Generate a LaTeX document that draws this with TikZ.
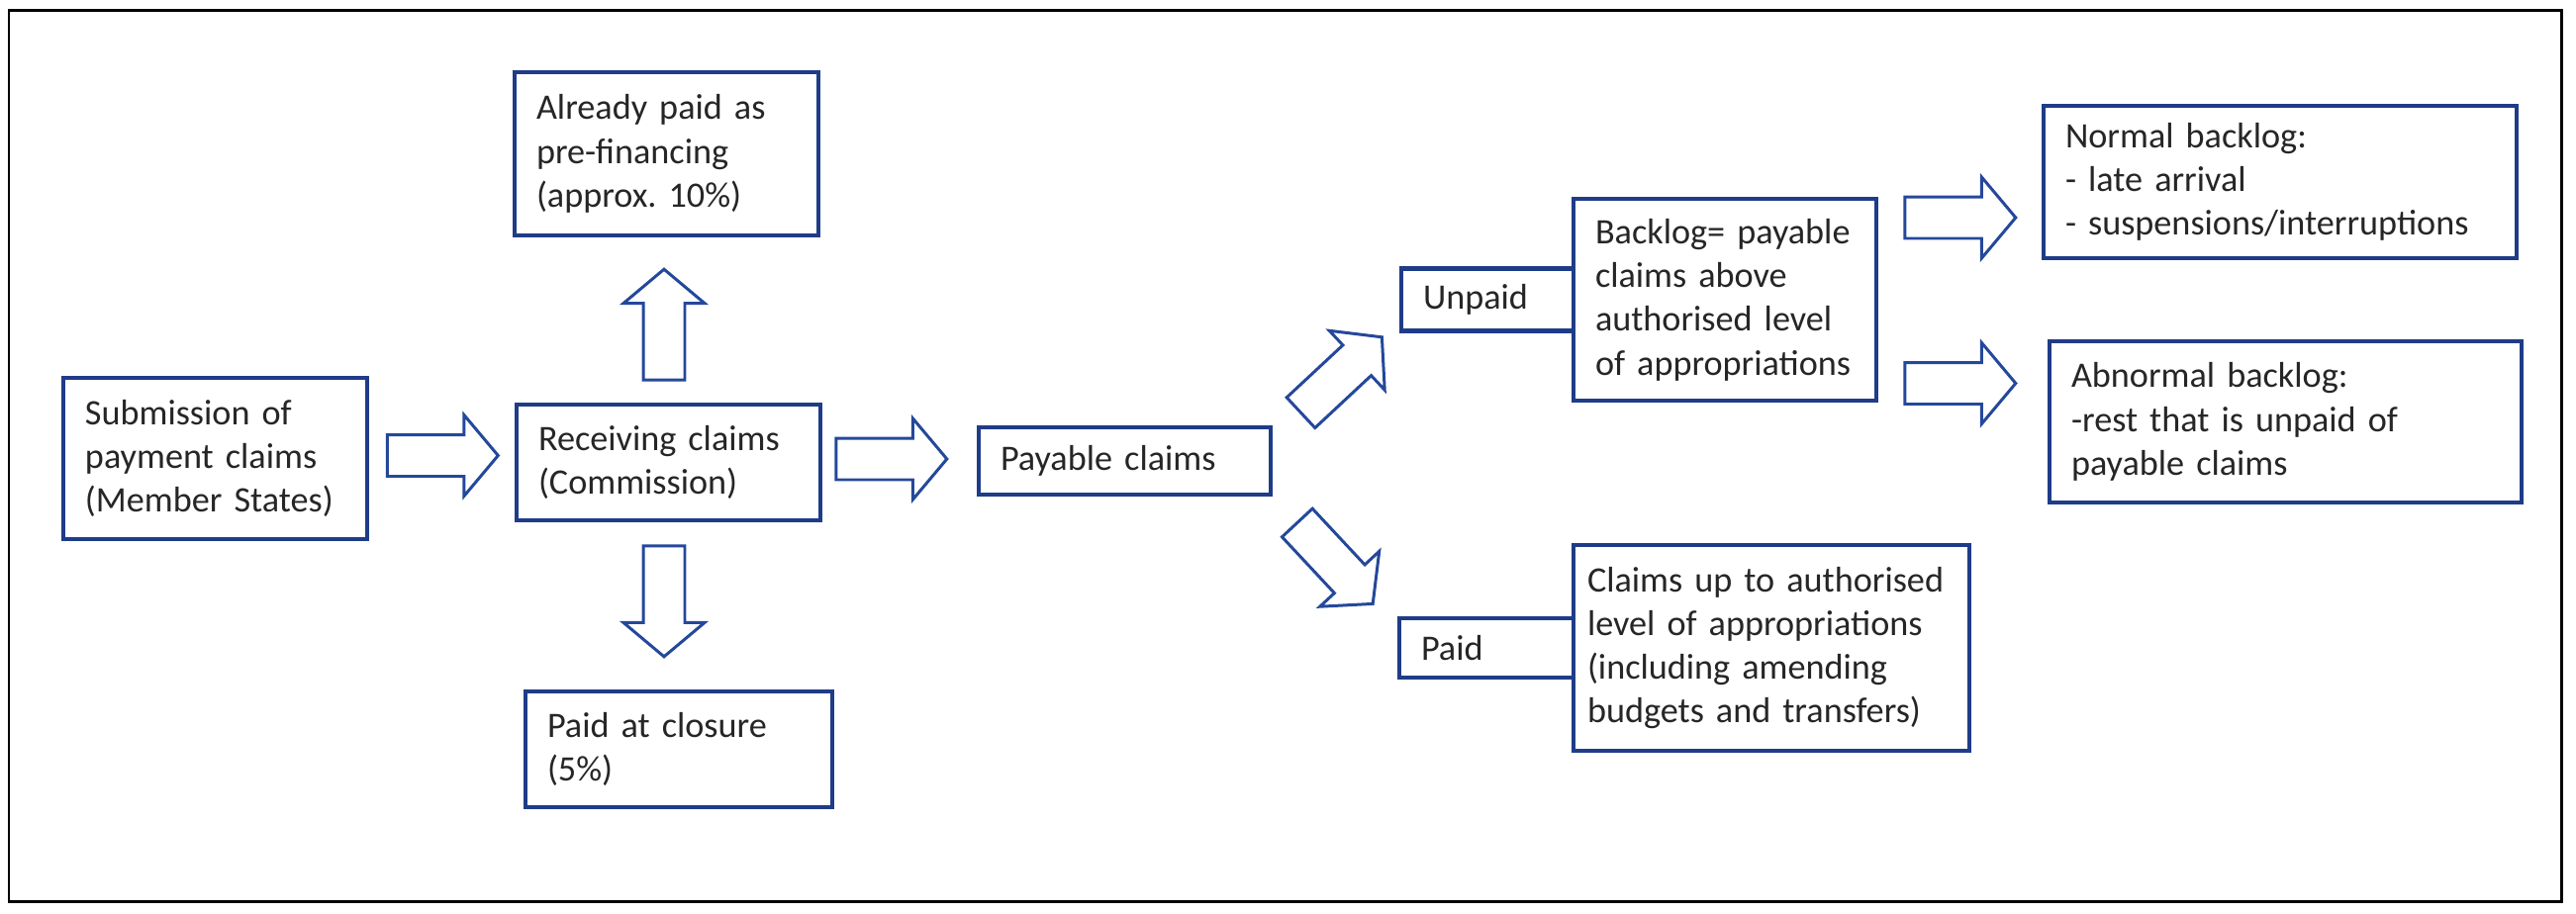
\documentclass[tikz,border=0pt]{standalone}
\usepackage{fontspec}
\setmainfont{Carlito}
\usepackage{xcolor}
\usepackage{tikz}
\usetikzlibrary{positioning, shapes.arrows}
\definecolor{azulcaja}{HTML}{1F3C88}
\definecolor{azulflecha}{HTML}{24489A}
\definecolor{texto}{HTML}{262626}

\begin{document}
\begin{tikzpicture}[
    caja/.style={
        rectangle,
        draw=azulcaja,
        line width=1.2pt,
        fill=white,
        inner xsep=0.22cm,
        inner ysep=0.1cm,
        outer sep=0pt,
        align=left,
        text=texto,
        font=\fontsize{10.3}{12.6}\selectfont,
    },
    flecha/.style={
        single arrow,
        draw=azulflecha,
        line width=0.85pt,
        fill=white,
        minimum height=1.12cm,
        inner xsep=0pt,
        inner ysep=0.195cm,
        single arrow head extend=0.2cm,
        single arrow tip angle=100,
    },
    marco/.style={draw=black, line width=0.85pt},
]

\useasboundingbox (0,0) rectangle (26.03,-9.23);
\draw[marco] (0.09,-0.10) rectangle (25.88,-9.11);

\node[caja, text width=2.63cm, minimum height=1.63cm] (envio)    at (2.175,-4.635) {Submission of\\payment claims\\(Member States)};
\node[caja, text width=2.63cm, minimum height=1.17cm] (recibe)   at (6.755,-4.675) {Receiving claims\\(Commission)};
\node[caja, text width=2.63cm, minimum height=1.65cm] (prefin)   at (6.735,-1.555) {Already paid as\\pre-financing\\(approx.\ 10\%)};
\node[caja, text width=2.66cm, minimum height=1.17cm] (cierre)   at (6.860,-7.575) {Paid at closure\\(5\%)};
\node[caja, text width=2.51cm, minimum height=0.68cm] (pagable)  at (11.365,-4.660) {Payable claims};
\node[caja, text width=2.62cm, minimum height=2.04cm] (atraso)   at (17.430,-3.030) {Backlog= payable\\claims above\\authorised level\\of appropriations};
\node[caja, text width=1.30cm, minimum height=0.63cm, left=0pt of atraso] (impago) {Unpaid};
\node[caja, text width=3.72cm, inner xsep=0.14cm, minimum height=2.08cm] (hasta) at (17.900,-6.550) {Claims up to authorised\\level of appropriations\\(including amending\\budgets and transfers)};
\node[caja, text width=1.32cm, minimum height=0.60cm, left=0pt of hasta] (pagado) {Paid};
\node[caja, text width=4.34cm, minimum height=1.54cm] (normal)   at (23.040,-1.840) {Normal backlog:\\- late arrival\\- suspensions/interruptions};
\node[caja, text width=4.33cm, minimum height=1.63cm] (anormal)  at (23.095,-4.265) {Abnormal backlog:\\-rest that is unpaid of\\payable claims};

% flechas de bloque
\node[flecha] (f1) at (4.385,-4.605) {};
\node[flecha] (f2) at (8.920,-4.640) {};
\node[flecha, rotate=90] (f3) at (6.710,-3.370) {};
\node[flecha, rotate=-90] (f4) at (6.710,-5.990) {};
\node[flecha, rotate=43] (f5) at (13.490,-3.850) {};
\node[flecha, rotate=-47] (f6) at (13.430,-5.630) {};
\node[flecha] (f7) at (19.720,-2.200) {};
\node[flecha] (f8) at (19.720,-3.875) {};

\end{tikzpicture}
\end{document}
